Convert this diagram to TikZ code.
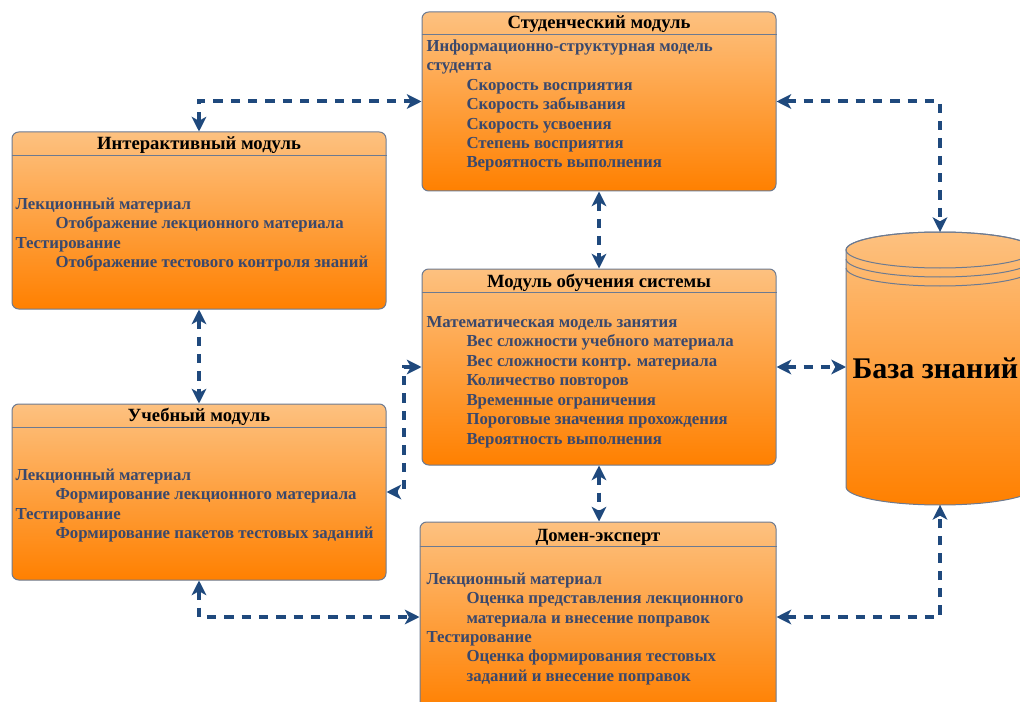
\documentclass[tikz,border=0pt]{standalone}
\usepackage{fontspec}
\setmainfont{Liberation Serif}
\usetikzlibrary{arrows.meta}

\definecolor{linkblue}{RGB}{31,73,125}
\definecolor{bodyblue}{RGB}{58,72,108}
\definecolor{boxedge}{RGB}{108,122,145}
\definecolor{orangetop}{RGB}{253,193,128}
\definecolor{orangebot}{RGB}{255,128,0}

\tikzset{every picture/.style={line width=0.75pt}}
\tikzset{
  modbox/.style={draw=boxedge, rounded corners=5pt, top color=orangetop, bottom color=orangebot, inner sep=0pt},
  modtitle/.style={anchor=base, inner sep=0pt, font=\fontsize{14}{16}\selectfont\bfseries},
  modbody/.style={anchor=north west, inner sep=0pt, align=left, text=bodyblue, font=\fontsize{12.6}{14.6}\selectfont\bfseries},
  link/.style={draw=linkblue, line width=3pt, dash pattern=on 7pt off 6pt, {Stealth[length=11pt,width=11pt,inset=3pt]}-{Stealth[length=11pt,width=11pt,inset=3pt]}},
}
\newcommand{\ind}{\hspace*{30pt}}

\begin{document}
\begin{tikzpicture}[x=0.75pt,y=0.75pt,yscale=-1,xscale=1]
\useasboundingbox (0,0) rectangle (1020,702);

%Boxes
\node (stud) [modbox, minimum width=265.5pt, minimum height=134.25pt] at (599,101.5) {};
\node (inter) [modbox, minimum width=280.5pt, minimum height=132.75pt] at (199,220.5) {};
\node (learn) [modbox, minimum width=265.5pt, minimum height=147pt] at (599,367) {};
\node (ucheb) [modbox, minimum width=280.5pt, minimum height=132pt] at (199,492) {};
\node (domen) [modbox, minimum width=267pt, minimum height=142.5pt] at (598,617) {};

%Header lines
\draw [boxedge] ([yshift=17.25pt]stud.north west) -- ([yshift=17.25pt]stud.north east);
\draw [boxedge] ([yshift=18pt]inter.north west) -- ([yshift=18pt]inter.north east);
\draw [boxedge] ([yshift=18pt]learn.north west) -- ([yshift=18pt]learn.north east);
\draw [boxedge] ([yshift=18pt]ucheb.north west) -- ([yshift=18pt]ucheb.north east);
\draw [boxedge] ([yshift=18.75pt]domen.north west) -- ([yshift=18.75pt]domen.north east);

%Database cylinder
\path [draw=boxedge, top color=orangetop, bottom color=orangebot] (846,250) -- (846,487) arc[start angle=180, end angle=0, x radius=94, y radius=18] -- (1034,250) arc[start angle=0, end angle=-180, x radius=94, y radius=18] -- cycle;
\draw [boxedge] (940,250) ellipse [x radius=94, y radius=18];
\draw [boxedge] (846,259) arc[start angle=180, end angle=0, x radius=94, y radius=18];
\draw [boxedge] (846,268) arc[start angle=180, end angle=0, x radius=94, y radius=18];
\coordinate (dbtop) at (940,232);
\coordinate (dbbot) at (940,505);
\coordinate (dbleft) at (846,367);

% Text Node
\node (studT) [modtitle] at (599,29) {Студенческий модуль};
% Text Node
\node (studB) [modbody] at (426,39) {Информационно-структурная модель\\студента\\
\ind Скорость восприятия\\ \ind Скорость забывания\\ \ind Скорость усвоения\\
\ind Степень восприятия\\ \ind Вероятность выполнения};
% Text Node
\node (interT) [modtitle] at (199,150) {Интерактивный модуль};
% Text Node
\node (interB) [modbody] at (15,197) {Лекционный материал\\ \ind Отображение лекционного материала\\
Тестирование\\ \ind Отображение тестового контроля знаний};
% Text Node
\node (learnT) [modtitle] at (599,287) {Модуль обучения системы};
% Text Node
\node (learnB) [modbody] at (426,316) {Математическая модель занятия\\
\ind Вес сложности учебного материала\\ \ind Вес сложности контр. материала\\
\ind Количество повторов\\ \ind Временные ограничения\\
\ind Пороговые значения прохождения\\ \ind Вероятность выполнения};
% Text Node
\node (uchebT) [modtitle] at (199,421) {Учебный модуль};
% Text Node
\node (uchebB) [modbody] at (15,468) {Лекционный материал\\ \ind Формирование лекционного материала\\
Тестирование\\ \ind Формирование пакетов тестовых заданий};
% Text Node
\node (domenT) [modtitle] at (598,541) {Домен-эксперт};
% Text Node
\node (domenB) [modbody] at (426,572) {Лекционный материал\\ \ind Оценка представления лекционного\\
\ind материала и внесение поправок\\ Тестирование\\ \ind Оценка формирования тестовых\\
\ind заданий и внесение поправок};
% Text Node
\node (dbT) [anchor=base west, inner sep=0pt, font=\fontsize{22.5}{27}\selectfont\bfseries] at (852,378) {База знаний};

%Connectors
\draw [link] (inter.north) |- (stud.west);
\draw [link] (stud.east) -| (dbtop);
\draw [link] (stud.south) -- (learn.north);
\draw [link] (learn.east) -- (dbleft);
\draw [link] (inter.south) -- (ucheb.north);
\draw [link] (learn.west) -- ++(-18,0) |- (ucheb.east);
\draw [link] (learn.south) -- (learn.south |- domen.north);
\draw [link] (ucheb.south) |- (domen.west);
\draw [link] (domen.east) -| (dbbot);

\end{tikzpicture}
\end{document}
